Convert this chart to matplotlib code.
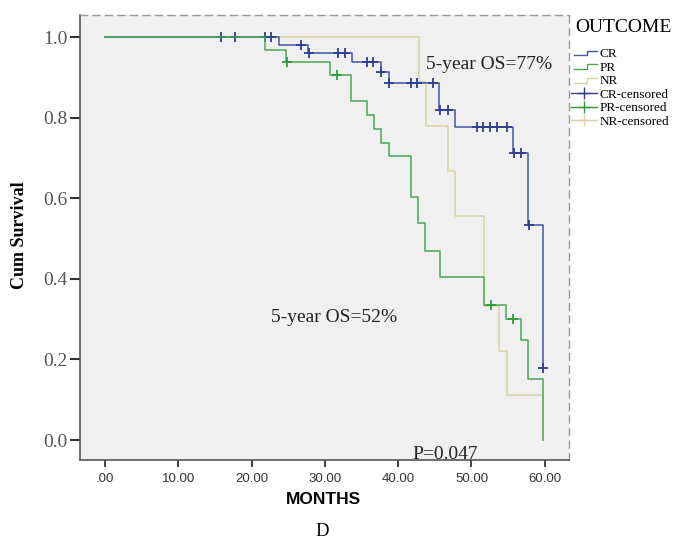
import numpy as np
import matplotlib.pyplot as plt
from matplotlib.lines import Line2D
from matplotlib.legend_handler import HandlerBase

# Kaplan-Meier step data (months, cumulative survival)
cr_times = [0, 23.7, 27.7, 33.7, 37.6, 38.7, 45.6, 47.7, 55.7, 57.7, 59.8]
cr_surv = [1.0, 0.981, 0.961, 0.939, 0.914, 0.886, 0.819, 0.777, 0.711, 0.534, 0.178]
cr_censored = [15.9, 17.8, 21.8, 22.7, 26.8, 27.8, 31.8, 32.7, 35.7, 36.6, 37.7,
               38.8, 41.7, 42.6, 44.8, 45.7, 46.8, 50.7, 51.6, 52.5, 53.5, 54.8,
               55.8, 56.8, 57.8, 59.8]

pr_times = [0, 21.8, 24.7, 30.7, 33.6, 35.7, 36.7, 37.7, 38.7, 41.7, 42.7, 43.7,
            45.7, 51.7, 54.7, 56.7, 57.7, 59.8]
pr_surv = [1.0, 0.968, 0.938, 0.906, 0.841, 0.806, 0.772, 0.738, 0.705, 0.604,
           0.538, 0.470, 0.404, 0.335, 0.300, 0.248, 0.151, 0.0]
pr_censored = [24.9, 31.7, 52.6, 55.7]

nr_times = [0, 42.8, 43.8, 46.8, 47.8, 51.7, 53.8, 54.8, 59.8]
nr_surv = [1.0, 0.889, 0.778, 0.667, 0.556, 0.333, 0.222, 0.111, 0.0]
nr_censored = []

x_ticks = [0, 10, 20, 30, 40, 50, 60]
x_labels = ['.00', '10.00', '20.00', '30.00', '40.00', '50.00', '60.00']
y_ticks = [0.0, 0.2, 0.4, 0.6, 0.8, 1.0]

c_cr = '#4556a6'
c_cr_mark = '#2e3d8e'
c_pr = '#4aa855'
c_pr_mark = '#2f9a3f'
c_nr = '#d9d2a6'

serif = ['Liberation Serif', 'DejaVu Serif']
sans = ['Liberation Sans', 'DejaVu Sans']


def surv_at(times, surv, t):
    i = np.searchsorted(times, t, side='right') - 1
    return surv[i]


class StepHandler(HandlerBase):
    # small step glyph like the SPSS legend
    def create_artists(self, legend, orig_handle, xdescent, ydescent,
                       width, height, fontsize, trans):
        w, h = width, height
        xs = np.array([0.1 * w, 0.6 * w, 0.6 * w, w]) - xdescent
        ys = np.array([0.2 * h, 0.2 * h, 0.7 * h, 0.7 * h]) - ydescent
        ln = Line2D(xs, ys, color=orig_handle.get_color(), lw=1.0)
        ln.set_transform(trans)
        return [ln]


fig = plt.figure(figsize=(6.73, 5.45), dpi=100)
ax = fig.add_axes([80 / 673, 85 / 545, 489 / 673, 445 / 545])
ax.set_facecolor('#f0f0f0')

groups = [
    ('NR', nr_times, nr_surv, nr_censored, c_nr, c_nr, 2),
    ('CR', cr_times, cr_surv, cr_censored, c_cr, c_cr_mark, 3),
    ('PR', pr_times, pr_surv, pr_censored, c_pr, c_pr_mark, 4),
]
for name, t, s, cens, col, mcol, z in groups:
    ax.plot(t, s, drawstyle='steps-post', color=col, lw=1.1, zorder=z)
    if cens:
        ys = [surv_at(t, s, c) for c in cens]
        ax.plot(cens, ys, ls='none', marker='+', ms=7, mew=1.3,
                color=mcol, zorder=z + 0.5)

ax.set_xlim(-3.4, 63.3)
ax.set_ylim(-0.0496, 1.0546)
ax.set_xticks(x_ticks)
ax.set_xticklabels(x_labels, fontfamily=sans, fontsize=9.5, color='#333333')
ax.set_yticks(y_ticks)
ax.set_yticklabels(['%.1f' % v for v in y_ticks], fontfamily=serif,
                   fontsize=14, color='#555555')
ax.tick_params(axis='y', length=7.5, width=1.5, color='#333333', pad=1.5)
ax.tick_params(axis='x', length=5, width=1.3, color='#333333', pad=4)

for side in ['left', 'bottom']:
    ax.spines[side].set_color('#555555')
    ax.spines[side].set_linewidth(1.2)
for side in ['top', 'right']:
    ax.spines[side].set_color('#999999')
    ax.spines[side].set_linewidth(1.0)
    ax.spines[side].set_linestyle((0, (5, 4)))

ax.text(43.8, 0.933, '5-year OS=77%', fontfamily=serif, fontsize=14,
        va='center', ha='left', color='#222222')
ax.text(22.7, 0.303, '5-year OS=52%', fontfamily=serif, fontsize=14,
        va='center', ha='left', color='#222222')
ax.text(42.0, -0.035, 'P=0.047', fontfamily=serif, fontsize=14,
        va='center', ha='left', color='#222222', zorder=6)

fig.text(20 / 673, 1 - 235 / 545, 'Cum Survival', rotation=90, ha='center',
         va='center', fontfamily=serif, fontsize=13, fontweight='bold')
fig.text(323 / 673, 1 - 500 / 545, 'MONTHS', ha='center', va='center',
         fontfamily=sans, fontsize=12.5, fontweight='bold')
fig.text(322 / 673, 1 - 531 / 545, 'D', ha='center', va='center',
         fontfamily=serif, fontsize=13.5)

# legend title drawn separately so the gap above the entries matches
fig.text(575 / 673, 1 - 28 / 545, 'OUTCOME', ha='left', va='center',
         fontfamily=serif, fontsize=14)

handles = [
    Line2D([], [], color=c_cr), Line2D([], [], color=c_pr), Line2D([], [], color=c_nr),
    Line2D([], [], color=c_cr_mark, marker='+', ms=9, mew=1.0, lw=1.0),
    Line2D([], [], color=c_pr_mark, marker='+', ms=9, mew=1.0, lw=1.0),
    Line2D([], [], color=c_nr, marker='+', ms=9, mew=1.0, lw=1.0),
]
labels = ['CR', 'PR', 'NR', 'CR-censored', 'PR-censored', 'NR-censored']
step_h = StepHandler()
leg = fig.legend(handles, labels, loc='upper left',
                 bbox_to_anchor=(571 / 673, 1 - 48 / 545),
                 frameon=False, prop={'family': serif, 'size': 9.5},
                 handlelength=2.0, handletextpad=0.15, labelspacing=0.1,
                 borderaxespad=0, borderpad=0,
                 handler_map={handles[0]: step_h, handles[1]: step_h,
                              handles[2]: step_h})

fig.savefig('out.png', dpi=100)
